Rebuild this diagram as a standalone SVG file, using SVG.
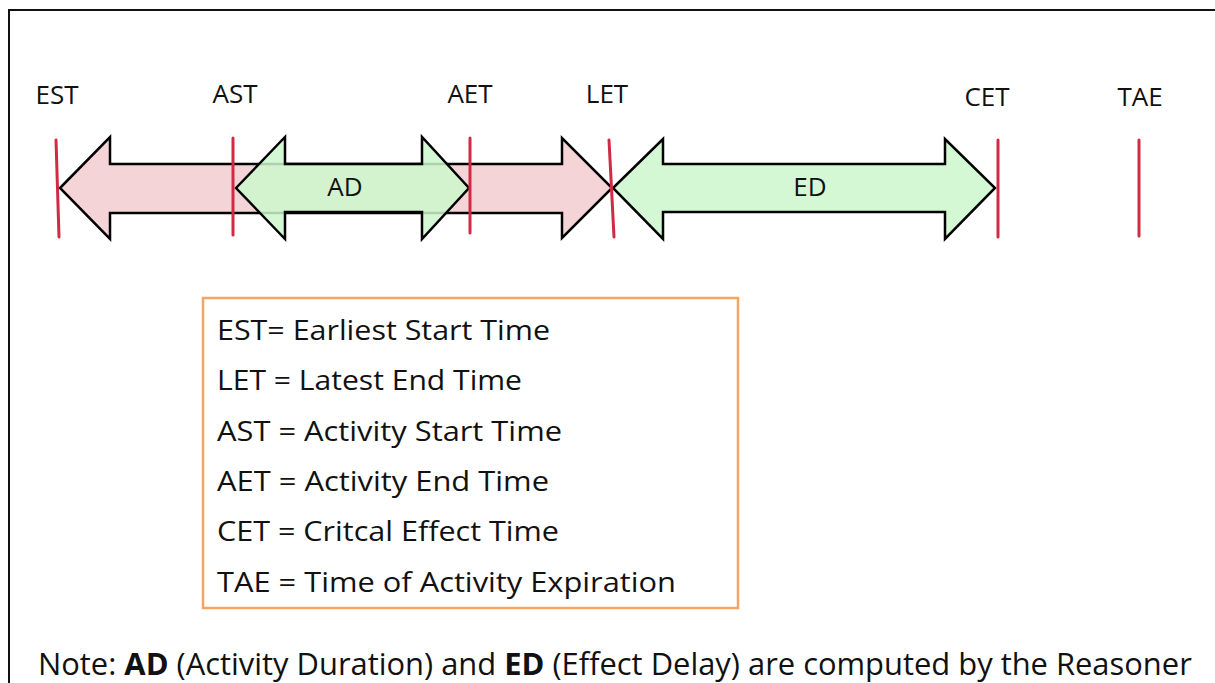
<svg xmlns="http://www.w3.org/2000/svg" width="1215" height="683" viewBox="0 0 1215 683">
<style>
.lbl{font-family:"Open Sans","Liberation Sans",sans-serif;font-size:26px;fill:#111}
.leg{font-family:"Open Sans","Liberation Sans",sans-serif;font-size:27px;fill:#111}
.note{font-family:"Open Sans","Liberation Sans",sans-serif;font-size:30.9px;fill:#111}
.pink{fill:#f5d4d8;stroke:#000;stroke-width:2.5}
.green{fill:#ccf7cc;fill-opacity:0.85;stroke:#000;stroke-width:2.5}
.tick{stroke:#d22a45;stroke-width:3;stroke-linecap:round}
</style>
<rect width="1215" height="683" fill="#fff"/>
<path d="M9 683 V10 H1215" fill="none" stroke="#111" stroke-width="2"/>
<g id="connectors">
<polygon id="pink-arrow" class="pink" points="60,188 110,137 110,164 562,164 562,138 612,188 562,238 562,213 110,213 110,239"/>
<polygon id="ad-arrow" class="green" points="236,188 285,137 285,164 422,164 422,137 469,188 422,239 422,212 285,212 285,239"/>
<polygon id="ed-arrow" class="green" points="613,188 663,139 663,164 945,164 945,139 995,188 945,239 945,212 663,212 663,239"/>
<text class="lbl" x="345" y="196" text-anchor="middle" font-size="25">AD</text>
<text class="lbl" x="810" y="196" text-anchor="middle" font-size="25">ED</text>
</g>
<g id="EST"><line class="tick" x1="56" y1="140" x2="59" y2="237"/><text class="lbl" x="57" y="104" text-anchor="middle">EST</text></g>
<g id="AST"><line class="tick" x1="233" y1="138" x2="233" y2="235"/><text class="lbl" x="235" y="103" text-anchor="middle">AST</text></g>
<g id="AET"><line class="tick" x1="470" y1="138" x2="470" y2="233"/><text class="lbl" x="470" y="103" text-anchor="middle">AET</text></g>
<g id="LET"><line class="tick" x1="609" y1="140" x2="614" y2="237"/><text class="lbl" x="607" y="103" text-anchor="middle">LET</text></g>
<g id="CET"><line class="tick" x1="998" y1="140" x2="998" y2="237"/><text class="lbl" x="987" y="106" text-anchor="middle">CET</text></g>
<g id="TAE"><line class="tick" x1="1139" y1="140" x2="1139" y2="236"/><text class="lbl" x="1140" y="106" text-anchor="middle">TAE</text></g>
<g id="legend">
<rect x="203" y="298" width="535" height="310" fill="#fff" stroke="#f5a55f" stroke-width="2.5"/>
<text class="leg" x="217" y="340" textLength="333" lengthAdjust="spacingAndGlyphs">EST= Earliest Start Time</text>
<text class="leg" x="217" y="390" textLength="305" lengthAdjust="spacingAndGlyphs">LET = Latest End Time</text>
<text class="leg" x="217" y="441" textLength="345" lengthAdjust="spacingAndGlyphs">AST = Activity Start Time</text>
<text class="leg" x="217" y="491" textLength="332" lengthAdjust="spacingAndGlyphs">AET = Activity End Time</text>
<text class="leg" x="217" y="541" textLength="342" lengthAdjust="spacingAndGlyphs">CET = Critcal Effect Time</text>
<text class="leg" x="217" y="592" textLength="459" lengthAdjust="spacingAndGlyphs">TAE = Time of Activity Expiration</text>
</g>
<g id="note">
<text class="note" x="38" y="675">Note: <tspan font-weight="bold">AD</tspan> (Activity Duration) and <tspan font-weight="bold">ED</tspan> (Effect Delay) are computed by the Reasoner</text>
</g>
</svg>
